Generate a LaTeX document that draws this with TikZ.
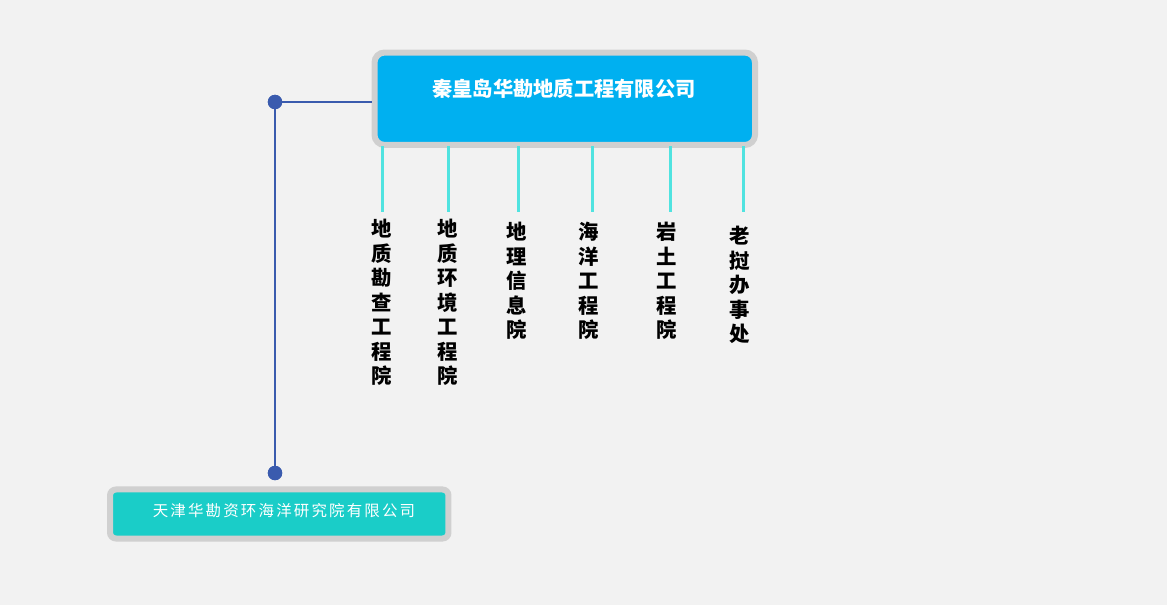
\documentclass[tikz,border=0pt]{standalone}
\usepackage{fontspec}
\newfontfamily\cjk{Noto Sans CJK SC}
\usetikzlibrary{positioning}
\definecolor{bgcol}{HTML}{F2F2F2}
\definecolor{framegray}{HTML}{D0D0D0}
\definecolor{hqblue}{HTML}{00B0F0}
\definecolor{subteal}{HTML}{1ACDC8}
\definecolor{branchcyan}{HTML}{50E3E0}
\definecolor{linkblue}{HTML}{3A5BAE}
\tikzstyle{box} = [draw=framegray,line width=.15cm,inner sep=0pt]
\tikzstyle{dept} = [anchor=north,align=center,inner sep=0pt,font=\cjk\bfseries\fontsize{14.5}{17.4}\selectfont]
\tikzstyle{branch} = [branchcyan,line width=.075cm]
\tikzstyle{link} = [linkblue,line width=.07cm]
\tikzstyle{dot} = [circle,fill=linkblue,inner sep=0pt,minimum size=.36cm]

\begin{document}
\begin{tikzpicture}[x=.025cm,y=-.025cm]
      \fill[bgcol](0,0)rectangle(1167,605);
      \useasboundingbox(0,0)rectangle(1167,605);
      % head office
      \node[box,fill=hqblue,rounded corners=.25cm,minimum width=9.51cm,minimum height=2.31cm](hq)at(564.75,98.75){};
      \node[text=white,font=\cjk\bfseries\fontsize{14.4}{17}\selectfont](title)at(564,89){秦皇岛华勘地质工程有限公司};
      % departments
      \node[dept](d1)at(382,219){地\\质\\勘\\查\\工\\程\\院};
      \node[dept](d2)at(448,219){地\\质\\环\\境\\工\\程\\院};
      \node[dept](d3)at(517,222){地\\理\\信\\息\\院};
      \node[dept](d4)at(589,222){海\\洋\\工\\程\\院};
      \node[dept](d5)at(667,222){岩\\土\\工\\程\\院};
      \node[dept](d6)at(740,226){老\\挝\\办\\事\\处};
      \foreach \x/\n in {382/1,448/2,518/3,592/4,670/5,743/6}
        \draw[branch](\x,146)coordinate(t\n)--(\x,212)coordinate(b\n);
      % subsidiary
      \node[box,fill=subteal,rounded corners=.15cm,minimum width=8.46cm,minimum height=1.225cm](tj)at(279.25,514){};
      \node[text=white,font=\cjk\fontsize{11}{13}\selectfont\addfontfeatures{LetterSpace=14}](tjname)at(284,511){天津华勘资环海洋研究院有限公司};
      \node[dot](dotA)at(275,102){};
      \node[dot](dotB)at(275,473){};
      \draw[link](dotA.center)--(dotA.center-|hq.west);
      \draw[link](dotA.center)--(dotB.center);
      \node[dot]at(dotA){};
      \node[dot]at(dotB){};
    \end{tikzpicture}
\end{document}
